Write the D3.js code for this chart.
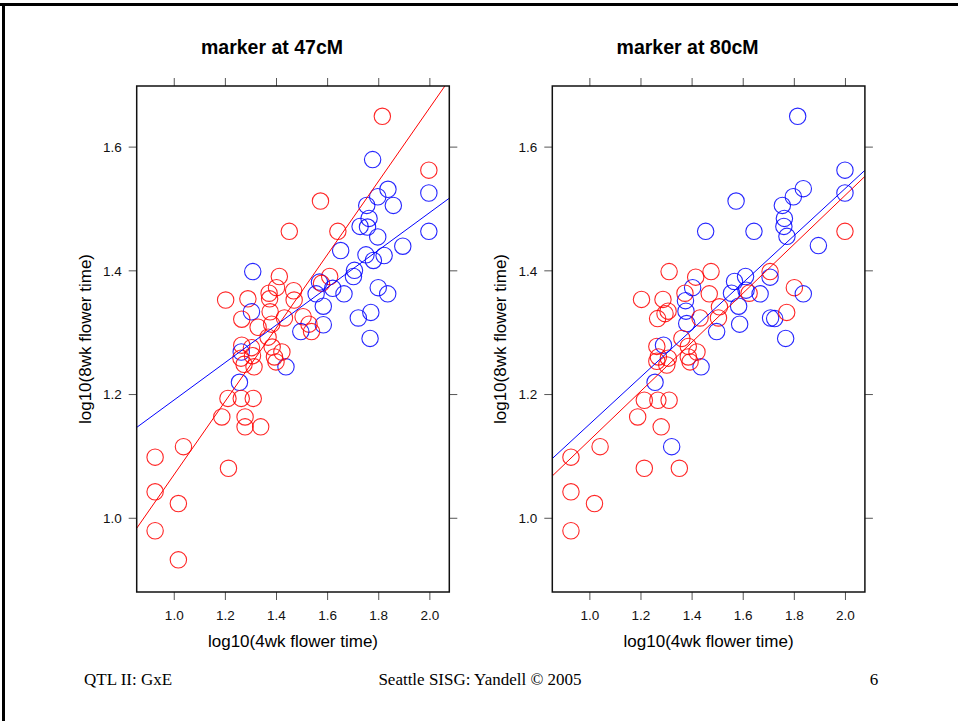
<!DOCTYPE html>
<html><head><meta charset="utf-8">
<script src="https://cdn.jsdelivr.net/npm/d3@7/dist/d3.min.js"></script>
<style>body{margin:0;background:#fff}</style>
</head><body>
<svg id="c" width="958" height="721"></svg>
<script>
// ---------------- data ----------------
const titles = ["marker at 47cM", "marker at 80cM"];
const xTicks = [1.0, 1.2, 1.4, 1.6, 1.8, 2.0];
const yTicks = [1.0, 1.2, 1.4, 1.6];
const xLabel = "log10(4wk flower time)";
const yLabel = "log10(8wk flower time)";
const footerLeft = "QTL II: GxE";
const footerMid = "Seattle SISG: Yandell \u00A9 2005";
const footerRight = "6";

// marker at 47cM
const x47 = [1.816,1.778,1.998,1.998,1.838,1.798,1.859,1.755,1.574,1.764,1.729,1.758,1.798,1.452,1.642,1.998,1.896,1.653,1.752,1.823,1.781,
  1.707,1.703,1.610,1.570,1.578,1.622,1.666,1.557,1.585,1.800,1.837,1.722,1.771,1.768,1.585,1.506,1.529,1.497,1.539,1.439,
  1.309,1.413,1.402,1.373,1.469,1.203,1.290,1.375,1.471,1.377,1.304,1.266,1.433,1.330,1.383,1.369,1.266,1.304,1.385,1.423,
  1.264,1.263,1.308,1.394,1.275,1.314,1.400,1.257,1.212,1.264,1.311,1.188,1.279,1.279,1.340,1.038,0.927,1.214,0.927,1.018,0.927,1.018];
const y47 = [1.649,1.579,1.562,1.525,1.531,1.519,1.505,1.505,1.512,1.484,1.471,1.470,1.454,1.463,1.463,1.463,1.439,1.432,1.425,1.424,1.416,
  1.400,1.390,1.390,1.381,1.379,1.371,1.362,1.362,1.342,1.372,1.362,1.323,1.332,1.290,1.312,1.325,1.313,1.301,1.301,1.244,
  1.398,1.390,1.372,1.363,1.367,1.352,1.354,1.354,1.352,1.333,1.333,1.321,1.323,1.308,1.313,1.292,1.279,1.275,1.276,1.268,
  1.268,1.258,1.262,1.260,1.248,1.244,1.252,1.219,1.193,1.193,1.193,1.163,1.163,1.147,1.147,1.115,1.098,1.080,1.042,1.023,0.979,0.932];
const g47 = ["A","B","A","B","B","B","B","B","A","B","B","B","B","A","A","B","B","B","B","B","B",
  "B","B","A","B","A","B","B","B","B","B","B","B","B","B","B","A","A","B","A","B",
  "B","A","A","A","A","A","A","A","A","A","B","A","A","A","A","A","A","A","A","A",
  "B","A","A","A","A","A","A","B","A","A","A","A","A","A","A","A","A","A","A","A","A","A"];
const fitGroups = ["A", "B"];
const fitIntercept47 = [0.476, 0.887];
const fitSlope47 = [0.593, 0.303];

// marker at 80cM
const x80 = [1.815,2.000,2.000,1.837,1.798,1.755,1.763,1.761,1.773,1.574,1.455,1.644,2.000,1.896,
  1.312,1.416,1.476,1.707,1.707,1.611,1.568,1.556,1.613,1.625,1.668,1.802,1.837,1.584,1.509,1.505,1.498,1.588,1.709,1.725,1.772,1.768,1.437,
  1.404,1.374,1.469,1.204,1.288,1.376,1.296,1.308,1.378,1.267,1.381,1.433,1.362,1.264,1.290,1.270,1.264,1.309,1.303,1.387,1.421,1.387,1.394,
  1.257,1.215,1.268,1.312,1.189,1.281,1.322,1.352,1.215,1.042,0.928,0.928,1.020,0.928];
const y80 = [1.649,1.562,1.525,1.532,1.519,1.505,1.484,1.471,1.455,1.512,1.463,1.463,1.463,1.440,
  1.398,1.389,1.398,1.398,1.389,1.390,1.382,1.363,1.368,1.363,1.362,1.372,1.362,1.342,1.341,1.323,1.301,1.313,1.323,1.322,1.332,1.290,1.244,
  1.372,1.363,1.362,1.353,1.353,1.351,1.330,1.334,1.334,1.322,1.314,1.323,1.290,1.277,1.279,1.260,1.253,1.258,1.247,1.277,1.268,1.260,1.252,
  1.219,1.190,1.190,1.190,1.163,1.147,1.115,1.080,1.080,1.115,1.098,1.042,1.023,0.979];
const g80 = ["B","B","B","B","B","B","B","B","B","B","B","B","A","B",
  "A","A","A","A","B","B","B","B","B","A","B","A","B","B","A","A","B","B","B","B","A","B","B",
  "B","A","A","A","A","B","A","A","B","A","B","A","A","A","B","A","A","A","A","A","A","A","A",
  "B","A","A","A","A","A","B","A","A","A","A","A","A","A"];
const fitIntercept80 = [0.729, 0.770];
const fitSlope80 = [0.396, 0.381];

const xDomain = [0.855, 2.078];
const yDomain = [0.880, 1.698];

// ---------------- drawing ----------------
const svg = d3.select("#c");
const color = d3.scaleOrdinal().domain(["A","B"]).range(["#ff0000","#0000ff"]);
const sans = "Arial, 'Liberation Sans', sans-serif";

svg.append("rect").attr("x",0).attr("y",3).attr("width",958).attr("height",3).attr("fill","#000");
svg.append("rect").attr("x",2).attr("y",3).attr("width",3).attr("height",718).attr("fill","#000");

const panels = [
  {left:136.7, title:titles[0], xs:x47, ys:y47, gs:g47, a:fitIntercept47, b:fitSlope47},
  {left:552.3, title:titles[1], xs:x80, ys:y80, gs:g80, a:fitIntercept80, b:fitSlope80}
];
const plotTop = 86, plotBottom = 592, pw = 312.6;

panels.forEach((p, pi) => {
  const x = d3.scaleLinear().domain(xDomain).range([p.left, p.left + pw]);
  const y = d3.scaleLinear().domain(yDomain).range([plotBottom, plotTop]);
  const g = svg.append("g");

  const clipId = "clip" + pi;
  svg.append("clipPath").attr("id", clipId).append("rect")
    .attr("x", p.left).attr("y", plotTop).attr("width", pw).attr("height", plotBottom - plotTop);

  // axes
  const tick = 8;
  const axB = g.append("g").attr("transform", `translate(0,${plotBottom})`)
    .call(d3.axisBottom(x).tickValues(xTicks).tickFormat(d3.format(".1f")).tickSize(tick).tickSizeOuter(0));
  const axT = g.append("g").attr("transform", `translate(0,${plotTop})`)
    .call(d3.axisTop(x).tickValues(xTicks).tickFormat("").tickSize(tick).tickSizeOuter(0));
  const axL = g.append("g").attr("transform", `translate(${p.left},0)`)
    .call(d3.axisLeft(y).tickValues(yTicks).tickFormat(d3.format(".1f")).tickSize(tick).tickSizeOuter(0));
  const axR = g.append("g").attr("transform", `translate(${p.left + pw},0)`)
    .call(d3.axisRight(y).tickValues(yTicks).tickFormat("").tickSize(tick).tickSizeOuter(0));
  [axB, axT, axL, axR].forEach(a => {
    a.select(".domain").remove();
    a.selectAll("line").attr("stroke", "#555").attr("stroke-width", 1);
    a.selectAll("text").attr("font-family", sans).attr("font-size", 13.5).attr("fill", "#111");
  });
  axB.selectAll("text").attr("dy", null).attr("y", 28);
  axL.selectAll("text").attr("x", -15).attr("dy", "0.35em");

  // points
  g.append("g").selectAll("circle").data(p.xs.map((v, i) => ({x: v, y: p.ys[i], g: p.gs[i]})))
    .join("circle")
    .attr("cx", d => x(d.x)).attr("cy", d => y(d.y)).attr("r", 8.2)
    .attr("fill", "none").attr("stroke", d => color(d.g)).attr("stroke-width", 1.1)
    .attr("stroke-opacity", 0.85);

  // regression lines
  g.append("g").attr("clip-path", `url(#${clipId})`).selectAll("line")
    .data(fitGroups.map((gr, i) => ({g: gr, a: p.a[i], b: p.b[i]})))
    .join("line")
    .attr("x1", x(xDomain[0])).attr("x2", x(xDomain[1]))
    .attr("y1", d => y(d.a + d.b * xDomain[0])).attr("y2", d => y(d.a + d.b * xDomain[1]))
    .attr("stroke", d => color(d.g)).attr("stroke-width", 1);

  // box
  g.append("rect").attr("x", p.left).attr("y", plotTop).attr("width", pw).attr("height", plotBottom - plotTop)
    .attr("fill", "none").attr("stroke", "#111").attr("stroke-width", 1.5);

  // titles
  g.append("text").attr("x", p.left + pw / 2 - 21).attr("y", 54).attr("text-anchor", "middle")
    .attr("font-family", sans).attr("font-weight", "bold")
    .attr("font-size", 19.5).text(p.title);
  g.append("text").attr("x", p.left + pw / 2).attr("y", 647).attr("text-anchor", "middle")
    .attr("font-family", sans).attr("font-size", 17).text(xLabel);
  g.append("text").attr("transform", `translate(${p.left - 46},${(plotTop + plotBottom) / 2}) rotate(-90)`)
    .attr("text-anchor", "middle")
    .attr("font-family", sans).attr("font-size", 17).text(yLabel);
});

// footer
const ff = "'Times New Roman', 'Liberation Serif', serif";
svg.append("text").attr("x", 84).attr("y", 685).attr("font-family", ff).attr("font-size", 17).text(footerLeft);
svg.append("text").attr("x", 480).attr("y", 685).attr("text-anchor", "middle").attr("font-family", ff).attr("font-size", 17).text(footerMid);
svg.append("text").attr("x", 874).attr("y", 685).attr("text-anchor", "middle").attr("font-family", ff).attr("font-size", 17).text(footerRight);
</script>
</body></html>
